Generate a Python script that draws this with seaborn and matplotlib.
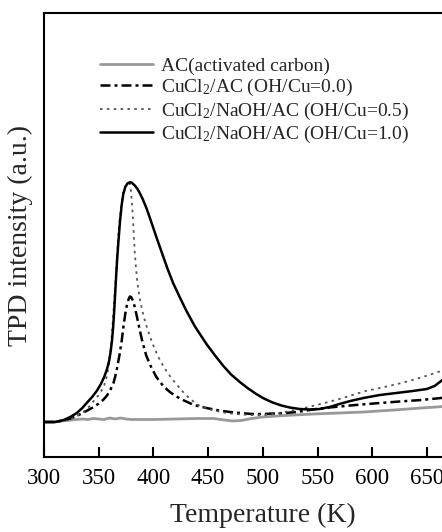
import numpy as np
import pandas as pd
import matplotlib
matplotlib.use("Agg")
import matplotlib.pyplot as plt
import seaborn as sns

# TPD curves (temperature in K, intensity in arbitrary units)
t_ac = [300, 310, 320, 330, 335, 340, 345, 350, 355, 360, 365, 370, 375, 380, 390, 400,
        420, 440, 455, 465, 472, 480, 490, 500, 520, 546, 570, 592, 620, 645, 665, 680]
i_ac = [35, 35, 36.5, 37.5, 38, 37.5, 38.5, 38, 37.5, 39, 38, 39, 38, 37.5, 37.5, 37.5,
        38, 38.5, 38.5, 37, 36, 36.5, 38.5, 40, 41.5, 43, 44, 45, 47, 49, 50.5, 52]

t_00 = [300, 310, 318, 324, 330, 337, 345.4, 350, 354, 357.6, 361, 363.5, 365, 367, 369, 371,
        372.7, 374.4, 376, 377.4, 378.5, 379.6, 381, 383, 385, 387.5, 390, 393.6, 397.5, 402.7, 409, 415,
        421, 427, 437, 448.5, 460, 470, 479, 490, 500, 510, 520, 531, 540, 549, 561, 575,
        590, 607, 625, 645, 663, 680]
i_00 = [35, 35, 36.5, 38.5, 41, 45, 50, 53.5, 57, 61.5, 68, 74, 80, 90, 102, 116,
        131, 144, 153, 158, 160.5, 160, 157, 150, 140, 127, 115, 101, 91, 80, 71, 65,
        60.5, 57, 52, 49, 46.5, 45, 44, 43, 43, 43.5, 44, 45, 46.5, 48, 49.5, 51,
        52.5, 54, 55.5, 57, 59, 61]

t_05 = [300, 310, 318, 324, 330, 336, 341, 345.4, 350, 354.6, 357, 359, 360.5, 362, 363.5, 365,
        366.5, 367.7, 369, 370.5, 372.2, 374, 376, 378.3, 379.3, 379.9, 380.6, 381.4, 382.2, 383, 384, 385,
        386.3, 387.8, 389.5, 391.5, 394, 397, 400.5, 404.5, 409, 414, 419, 425, 432, 440, 450, 463.6,
        475, 488, 500, 510, 518, 530, 540, 549, 560, 570, 582, 594, 605, 615, 627, 640,
        652, 663, 675]
i_05 = [35, 35, 36, 38, 41, 45, 50, 56, 62, 70, 79, 90, 103, 122, 145, 170,
        195, 218, 235, 250, 264, 270, 273, 274, 268, 260, 250, 237, 220, 204, 190, 178,
        167, 157, 148, 139, 130, 120, 110, 100, 91, 82.5, 75.5, 67.5, 59.5, 52.5, 48, 44.5,
        43, 42, 42, 43, 44.5, 47, 49.5, 52, 55, 58, 62, 66, 68.5, 71, 74, 78,
        82, 86, 90]

t_10 = [300, 310, 318, 324, 330, 335, 339, 344, 348.5, 352, 355, 357.5, 359.5, 361, 362.2, 363.2,
        364.1, 365, 366, 367, 368.2, 369.5, 371, 372.5, 374.3, 376.3, 378.3, 380, 383, 385.5, 387.5, 390,
        393.6, 396.5, 399.6, 402.7, 408.8, 413, 418, 424, 430, 438, 448.5, 456, 463.6, 471, 479, 486,
        494, 501, 509, 517, 524.6, 533.7, 543, 552, 561, 570, 580, 592, 607, 622, 637, 650,
        657, 663, 672]
i_10 = [35, 35, 37, 40, 44, 49, 54, 60, 66.5, 73, 80, 87.5, 96, 106, 117, 130,
        145, 162, 182, 200, 218, 236, 252, 263, 270, 273.5, 274.7, 274.5, 271.5, 268, 264, 258.5,
        249, 240, 230, 220, 201, 188, 174, 160, 146.5, 130.5, 113, 102, 91.5, 82.5, 75, 69,
        63, 58.5, 54.5, 51.5, 49.5, 48, 47.5, 48, 50, 53, 56, 59, 62, 64, 66, 68,
        71, 76, 84]

labels = ["AC(activated carbon)",
          r"CuCl$_2$/AC (OH/Cu=0.0)",
          r"CuCl$_2$/NaOH/AC (OH/Cu=0.5)",
          r"CuCl$_2$/NaOH/AC (OH/Cu=1.0)"]

sns.set_theme(style="white", rc={"axes.grid": False})
plt.rcParams['font.family'] = ['Liberation Serif', 'DejaVu Serif']
plt.rcParams['mathtext.fontset'] = 'custom'
plt.rcParams['mathtext.rm'] = 'Liberation Serif'
plt.rcParams['mathtext.it'] = 'Liberation Serif:italic'
plt.rcParams['lines.solid_joinstyle'] = 'round'
plt.rcParams['lines.dash_joinstyle'] = 'round'

fig = plt.figure(figsize=(4.42, 5.32), dpi=100)
ax = fig.add_axes([44 / 442, 75 / 532, 437.6 / 442, 444 / 532])

sns.lineplot(x=t_ac, y=i_ac, ax=ax, color='#999999', lw=2.0, label=labels[0])
sns.lineplot(x=t_00, y=i_00, ax=ax, color='black', lw=1.8,
             linestyle=(0, (4, 1.6, 1.2, 1.6)), label=labels[1])
sns.lineplot(x=t_05, y=i_05, ax=ax, color='#555555', lw=1.3,
             linestyle=(0, (1.4, 2.4)), label=labels[2])
sns.lineplot(x=t_10, y=i_10, ax=ax, color='black', lw=1.8, label=labels[3])

ax.set_xlim(300, 700)
ax.set_ylim(0, 444)
ax.set_xticks([300, 350, 400, 450, 500, 550, 600, 650])
ax.set_yticks([])
ax.tick_params(axis='x', direction='in', length=7, width=1.5, pad=8,
               labelsize=16.5, colors='black', bottom=True)
for s in ax.spines.values():
    s.set_linewidth(1.5)
    s.set_color('black')

ax.set_xlabel('Temperature (K)', fontsize=20, labelpad=10)
ax.set_ylabel('TPD intensity (a.u.)', fontsize=20, labelpad=8)

ax.legend(loc='upper left', bbox_to_anchor=(0.128, 0.901), frameon=False,
          fontsize=14, handlelength=2.7, handletextpad=0.45,
          labelspacing=0.12, borderpad=0, borderaxespad=0)

fig.savefig('out.png', dpi=100)
